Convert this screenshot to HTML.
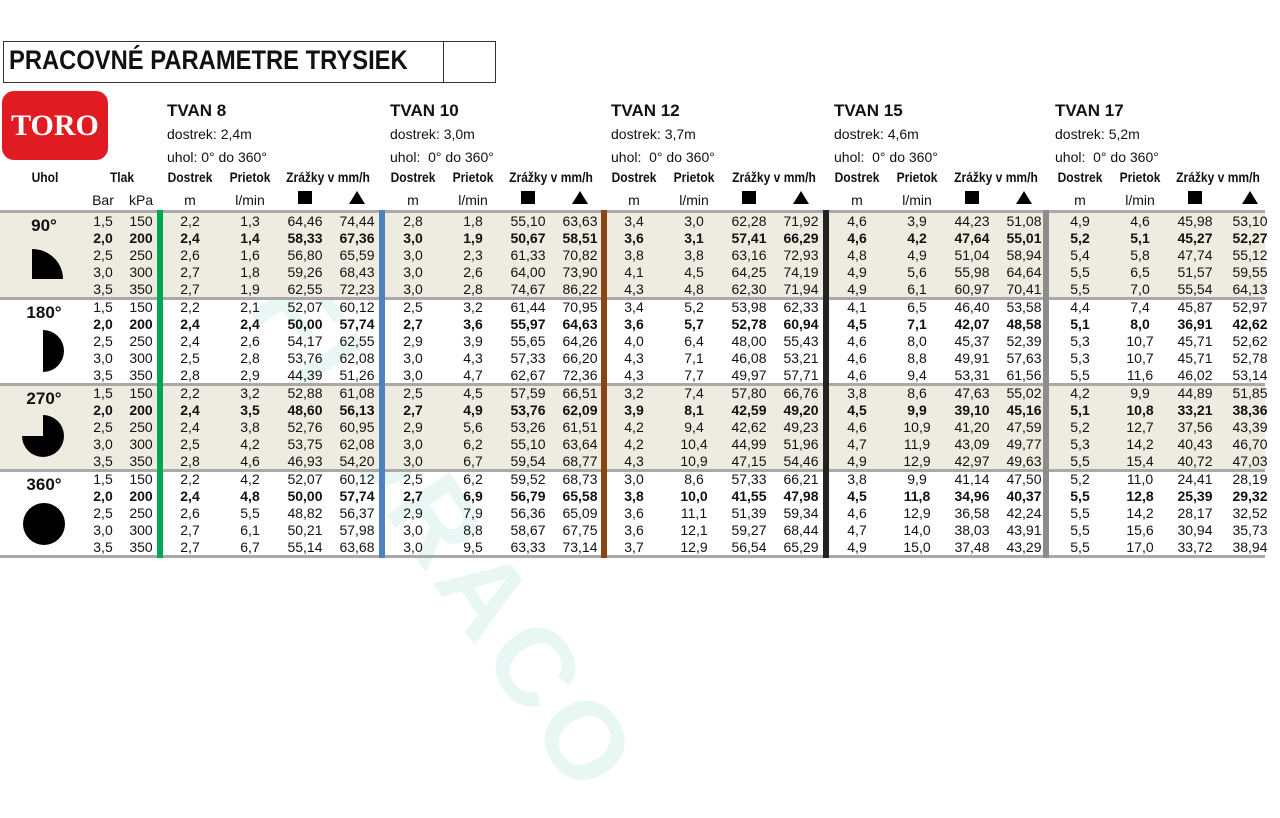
<!DOCTYPE html>
<html><head><meta charset="utf-8"><style>
*{margin:0;padding:0;box-sizing:border-box}
body{width:1280px;height:621px;background:#fff;position:relative;overflow:hidden;font-family:"Liberation Sans",sans-serif;color:#111}
.abs{position:absolute}
.bg{position:absolute;left:0;width:1265px;height:86px;background:#eeece1}
.ln{position:absolute;left:0;width:1265px;height:3px;background:#a9a9a9}
.vb{position:absolute;top:210px;height:348px;width:6px}
.r{position:absolute;left:0;width:1280px;height:17px;font-size:14px;line-height:17px}
.r i{font-style:normal;position:absolute;width:56px;text-align:center}
.b{font-weight:bold}
.p1{left:75px}.p2{left:113px}
.p3{left:162px}.p4{left:222px}.p5{left:277px}.p6{left:329px}
.p7{left:385px}.p8{left:445px}.p9{left:500px}.p10{left:552px}
.p11{left:606px}.p12{left:666px}.p13{left:721px}.p14{left:773px}
.p15{left:829px}.p16{left:889px}.p17{left:944px}.p18{left:996px}
.p19{left:1052px}.p20{left:1112px}.p21{left:1167px}.p22{left:1222px}
.h{position:absolute;font-size:17px;font-weight:bold}
.s{position:absolute;font-size:14px}
.ch{position:absolute;top:169px;font-size:14px;font-weight:bold;width:70px;text-align:center;transform:scaleX(0.86);white-space:nowrap}
.un{position:absolute;top:192px;font-size:14px;width:56px;text-align:center}
.sq{position:absolute;top:191px;width:14px;height:13px;background:#000}
.tr{position:absolute;top:191px;width:0;height:0;border-left:8px solid transparent;border-right:8px solid transparent;border-bottom:13px solid #000}
.ang{position:absolute;left:14px;width:60px;text-align:center;font-size:17px;font-weight:bold}
</style></head><body>
<div class="abs" style="left:330px;top:250px;transform:rotate(56deg);transform-origin:left top;font-size:110px;font-weight:bold;color:rgba(150,215,205,0.22);white-space:nowrap;letter-spacing:8px">FLORACO</div>

<div class="abs" style="left:3px;top:41px;width:493px;height:42px;border:1px solid #333"></div>
<div class="abs" style="left:443px;top:42px;width:1px;height:40px;background:#333"></div>
<div class="abs" style="left:9px;top:45px;font-size:27px;font-weight:bold;transform:scaleX(0.88);transform-origin:left top;white-space:nowrap">PRACOVNÉ PARAMETRE TRYSIEK</div>
<div class="abs" style="left:2px;top:91px;width:106px;height:69px;background:#e11b22;border-radius:12px;color:#fff;font-family:'Liberation Serif',serif;font-weight:bold;font-size:30px;text-align:center;line-height:69px">TORO</div>

<div class="h" style="left:167px;top:101px">TVAN 8</div><div class="s" style="left:167px;top:126px">dostrek: 2,4m</div><div class="s" style="left:167px;top:149px">uhol: 0° do 360°</div>
<div class="h" style="left:390px;top:101px">TVAN 10</div><div class="s" style="left:390px;top:126px">dostrek: 3,0m</div><div class="s" style="left:390px;top:149px">uhol:&nbsp; 0° do 360°</div>
<div class="h" style="left:611px;top:101px">TVAN 12</div><div class="s" style="left:611px;top:126px">dostrek: 3,7m</div><div class="s" style="left:611px;top:149px">uhol:&nbsp; 0° do 360°</div>
<div class="h" style="left:834px;top:101px">TVAN 15</div><div class="s" style="left:834px;top:126px">dostrek: 4,6m</div><div class="s" style="left:834px;top:149px">uhol:&nbsp; 0° do 360°</div>
<div class="h" style="left:1055px;top:101px">TVAN 17</div><div class="s" style="left:1055px;top:126px">dostrek: 5,2m</div><div class="s" style="left:1055px;top:149px">uhol:&nbsp; 0° do 360°</div>

<div class="ch" style="left:10px">Uhol</div><div class="ch" style="left:87px">Tlak</div>
<div class="un" style="left:75px">Bar</div><div class="un" style="left:113px">kPa</div>
<div class="ch" style="left:155px">Dostrek</div><div class="ch" style="left:215px">Prietok</div><div class="ch" style="left:268px;width:120px">Zrážky v mm/h</div>
<div class="un p3">m</div><div class="un p4">l/min</div><div class="sq" style="left:298px"></div><div class="tr" style="left:349px"></div>
<div class="ch" style="left:378px">Dostrek</div><div class="ch" style="left:438px">Prietok</div><div class="ch" style="left:491px;width:120px">Zrážky v mm/h</div>
<div class="un p7">m</div><div class="un p8">l/min</div><div class="sq" style="left:521px"></div><div class="tr" style="left:572px"></div>
<div class="ch" style="left:599px">Dostrek</div><div class="ch" style="left:659px">Prietok</div><div class="ch" style="left:714px;width:120px">Zrážky v mm/h</div>
<div class="un p11">m</div><div class="un p12">l/min</div><div class="sq" style="left:742px"></div><div class="tr" style="left:793px"></div>
<div class="ch" style="left:822px">Dostrek</div><div class="ch" style="left:882px">Prietok</div><div class="ch" style="left:936px;width:120px">Zrážky v mm/h</div>
<div class="un p15">m</div><div class="un p16">l/min</div><div class="sq" style="left:965px"></div><div class="tr" style="left:1016px"></div>
<div class="ch" style="left:1045px">Dostrek</div><div class="ch" style="left:1105px">Prietok</div><div class="ch" style="left:1158px;width:120px">Zrážky v mm/h</div>
<div class="un p19">m</div><div class="un p20">l/min</div><div class="sq" style="left:1188px"></div><div class="tr" style="left:1242px"></div>

<div class="bg" style="top:212px"></div><div class="bg" style="top:384px"></div>
<div class="ln" style="top:210px"></div><div class="ln" style="top:297px"></div><div class="ln" style="top:383px"></div><div class="ln" style="top:469px"></div><div class="ln" style="top:555px"></div>
<div class="vb" style="left:157px;background:#00a651"></div>
<div class="vb" style="left:379px;background:#4f81bd"></div>
<div class="vb" style="left:601px;background:#8b4513"></div>
<div class="vb" style="left:823px;background:#222"></div>
<div class="vb" style="left:1043px;background:#8c8c8c"></div>

<div class="ang" style="top:216px">90°</div>
<div class="abs" style="left:32px;top:249px;width:31px;height:30px;background:#000;border-top-right-radius:31px 30px"></div>
<div class="ang" style="top:303px">180°</div>
<div class="abs" style="left:22px;top:330px;width:42px;height:42px;border-radius:50%;background:conic-gradient(#000 0 180deg,transparent 180deg)"></div>
<div class="ang" style="top:389px">270°</div>
<div class="abs" style="left:22px;top:415px;width:42px;height:42px;border-radius:50%;background:conic-gradient(#000 0 270deg,transparent 270deg)"></div>
<div class="ang" style="top:475px">360°</div>
<div class="abs" style="left:23px;top:503px;width:42px;height:42px;border-radius:50%;background:#000"></div>

<div class="r" style="top:213px"><i class=p1>1,5</i><i class=p2>150</i><i class=p3>2,2</i><i class=p4>1,3</i><i class=p5>64,46</i><i class=p6>74,44</i><i class=p7>2,8</i><i class=p8>1,8</i><i class=p9>55,10</i><i class=p10>63,63</i><i class=p11>3,4</i><i class=p12>3,0</i><i class=p13>62,28</i><i class=p14>71,92</i><i class=p15>4,6</i><i class=p16>3,9</i><i class=p17>44,23</i><i class=p18>51,08</i><i class=p19>4,9</i><i class=p20>4,6</i><i class=p21>45,98</i><i class=p22>53,10</i></div>
<div class="r b" style="top:230px"><i class=p1>2,0</i><i class=p2>200</i><i class=p3>2,4</i><i class=p4>1,4</i><i class=p5>58,33</i><i class=p6>67,36</i><i class=p7>3,0</i><i class=p8>1,9</i><i class=p9>50,67</i><i class=p10>58,51</i><i class=p11>3,6</i><i class=p12>3,1</i><i class=p13>57,41</i><i class=p14>66,29</i><i class=p15>4,6</i><i class=p16>4,2</i><i class=p17>47,64</i><i class=p18>55,01</i><i class=p19>5,2</i><i class=p20>5,1</i><i class=p21>45,27</i><i class=p22>52,27</i></div>
<div class="r" style="top:247px"><i class=p1>2,5</i><i class=p2>250</i><i class=p3>2,6</i><i class=p4>1,6</i><i class=p5>56,80</i><i class=p6>65,59</i><i class=p7>3,0</i><i class=p8>2,3</i><i class=p9>61,33</i><i class=p10>70,82</i><i class=p11>3,8</i><i class=p12>3,8</i><i class=p13>63,16</i><i class=p14>72,93</i><i class=p15>4,8</i><i class=p16>4,9</i><i class=p17>51,04</i><i class=p18>58,94</i><i class=p19>5,4</i><i class=p20>5,8</i><i class=p21>47,74</i><i class=p22>55,12</i></div>
<div class="r" style="top:264px"><i class=p1>3,0</i><i class=p2>300</i><i class=p3>2,7</i><i class=p4>1,8</i><i class=p5>59,26</i><i class=p6>68,43</i><i class=p7>3,0</i><i class=p8>2,6</i><i class=p9>64,00</i><i class=p10>73,90</i><i class=p11>4,1</i><i class=p12>4,5</i><i class=p13>64,25</i><i class=p14>74,19</i><i class=p15>4,9</i><i class=p16>5,6</i><i class=p17>55,98</i><i class=p18>64,64</i><i class=p19>5,5</i><i class=p20>6,5</i><i class=p21>51,57</i><i class=p22>59,55</i></div>
<div class="r" style="top:281px"><i class=p1>3,5</i><i class=p2>350</i><i class=p3>2,7</i><i class=p4>1,9</i><i class=p5>62,55</i><i class=p6>72,23</i><i class=p7>3,0</i><i class=p8>2,8</i><i class=p9>74,67</i><i class=p10>86,22</i><i class=p11>4,3</i><i class=p12>4,8</i><i class=p13>62,30</i><i class=p14>71,94</i><i class=p15>4,9</i><i class=p16>6,1</i><i class=p17>60,97</i><i class=p18>70,41</i><i class=p19>5,5</i><i class=p20>7,0</i><i class=p21>55,54</i><i class=p22>64,13</i></div>

<div class="r" style="top:299px"><i class=p1>1,5</i><i class=p2>150</i><i class=p3>2,2</i><i class=p4>2,1</i><i class=p5>52,07</i><i class=p6>60,12</i><i class=p7>2,5</i><i class=p8>3,2</i><i class=p9>61,44</i><i class=p10>70,95</i><i class=p11>3,4</i><i class=p12>5,2</i><i class=p13>53,98</i><i class=p14>62,33</i><i class=p15>4,1</i><i class=p16>6,5</i><i class=p17>46,40</i><i class=p18>53,58</i><i class=p19>4,4</i><i class=p20>7,4</i><i class=p21>45,87</i><i class=p22>52,97</i></div>
<div class="r b" style="top:316px"><i class=p1>2,0</i><i class=p2>200</i><i class=p3>2,4</i><i class=p4>2,4</i><i class=p5>50,00</i><i class=p6>57,74</i><i class=p7>2,7</i><i class=p8>3,6</i><i class=p9>55,97</i><i class=p10>64,63</i><i class=p11>3,6</i><i class=p12>5,7</i><i class=p13>52,78</i><i class=p14>60,94</i><i class=p15>4,5</i><i class=p16>7,1</i><i class=p17>42,07</i><i class=p18>48,58</i><i class=p19>5,1</i><i class=p20>8,0</i><i class=p21>36,91</i><i class=p22>42,62</i></div>
<div class="r" style="top:333px"><i class=p1>2,5</i><i class=p2>250</i><i class=p3>2,4</i><i class=p4>2,6</i><i class=p5>54,17</i><i class=p6>62,55</i><i class=p7>2,9</i><i class=p8>3,9</i><i class=p9>55,65</i><i class=p10>64,26</i><i class=p11>4,0</i><i class=p12>6,4</i><i class=p13>48,00</i><i class=p14>55,43</i><i class=p15>4,6</i><i class=p16>8,0</i><i class=p17>45,37</i><i class=p18>52,39</i><i class=p19>5,3</i><i class=p20>10,7</i><i class=p21>45,71</i><i class=p22>52,62</i></div>
<div class="r" style="top:350px"><i class=p1>3,0</i><i class=p2>300</i><i class=p3>2,5</i><i class=p4>2,8</i><i class=p5>53,76</i><i class=p6>62,08</i><i class=p7>3,0</i><i class=p8>4,3</i><i class=p9>57,33</i><i class=p10>66,20</i><i class=p11>4,3</i><i class=p12>7,1</i><i class=p13>46,08</i><i class=p14>53,21</i><i class=p15>4,6</i><i class=p16>8,8</i><i class=p17>49,91</i><i class=p18>57,63</i><i class=p19>5,3</i><i class=p20>10,7</i><i class=p21>45,71</i><i class=p22>52,78</i></div>
<div class="r" style="top:367px"><i class=p1>3,5</i><i class=p2>350</i><i class=p3>2,8</i><i class=p4>2,9</i><i class=p5>44,39</i><i class=p6>51,26</i><i class=p7>3,0</i><i class=p8>4,7</i><i class=p9>62,67</i><i class=p10>72,36</i><i class=p11>4,3</i><i class=p12>7,7</i><i class=p13>49,97</i><i class=p14>57,71</i><i class=p15>4,6</i><i class=p16>9,4</i><i class=p17>53,31</i><i class=p18>61,56</i><i class=p19>5,5</i><i class=p20>11,6</i><i class=p21>46,02</i><i class=p22>53,14</i></div>

<div class="r" style="top:385px"><i class=p1>1,5</i><i class=p2>150</i><i class=p3>2,2</i><i class=p4>3,2</i><i class=p5>52,88</i><i class=p6>61,08</i><i class=p7>2,5</i><i class=p8>4,5</i><i class=p9>57,59</i><i class=p10>66,51</i><i class=p11>3,2</i><i class=p12>7,4</i><i class=p13>57,80</i><i class=p14>66,76</i><i class=p15>3,8</i><i class=p16>8,6</i><i class=p17>47,63</i><i class=p18>55,02</i><i class=p19>4,2</i><i class=p20>9,9</i><i class=p21>44,89</i><i class=p22>51,85</i></div>
<div class="r b" style="top:402px"><i class=p1>2,0</i><i class=p2>200</i><i class=p3>2,4</i><i class=p4>3,5</i><i class=p5>48,60</i><i class=p6>56,13</i><i class=p7>2,7</i><i class=p8>4,9</i><i class=p9>53,76</i><i class=p10>62,09</i><i class=p11>3,9</i><i class=p12>8,1</i><i class=p13>42,59</i><i class=p14>49,20</i><i class=p15>4,5</i><i class=p16>9,9</i><i class=p17>39,10</i><i class=p18>45,16</i><i class=p19>5,1</i><i class=p20>10,8</i><i class=p21>33,21</i><i class=p22>38,36</i></div>
<div class="r" style="top:419px"><i class=p1>2,5</i><i class=p2>250</i><i class=p3>2,4</i><i class=p4>3,8</i><i class=p5>52,76</i><i class=p6>60,95</i><i class=p7>2,9</i><i class=p8>5,6</i><i class=p9>53,26</i><i class=p10>61,51</i><i class=p11>4,2</i><i class=p12>9,4</i><i class=p13>42,62</i><i class=p14>49,23</i><i class=p15>4,6</i><i class=p16>10,9</i><i class=p17>41,20</i><i class=p18>47,59</i><i class=p19>5,2</i><i class=p20>12,7</i><i class=p21>37,56</i><i class=p22>43,39</i></div>
<div class="r" style="top:436px"><i class=p1>3,0</i><i class=p2>300</i><i class=p3>2,5</i><i class=p4>4,2</i><i class=p5>53,75</i><i class=p6>62,08</i><i class=p7>3,0</i><i class=p8>6,2</i><i class=p9>55,10</i><i class=p10>63,64</i><i class=p11>4,2</i><i class=p12>10,4</i><i class=p13>44,99</i><i class=p14>51,96</i><i class=p15>4,7</i><i class=p16>11,9</i><i class=p17>43,09</i><i class=p18>49,77</i><i class=p19>5,3</i><i class=p20>14,2</i><i class=p21>40,43</i><i class=p22>46,70</i></div>
<div class="r" style="top:453px"><i class=p1>3,5</i><i class=p2>350</i><i class=p3>2,8</i><i class=p4>4,6</i><i class=p5>46,93</i><i class=p6>54,20</i><i class=p7>3,0</i><i class=p8>6,7</i><i class=p9>59,54</i><i class=p10>68,77</i><i class=p11>4,3</i><i class=p12>10,9</i><i class=p13>47,15</i><i class=p14>54,46</i><i class=p15>4,9</i><i class=p16>12,9</i><i class=p17>42,97</i><i class=p18>49,63</i><i class=p19>5,5</i><i class=p20>15,4</i><i class=p21>40,72</i><i class=p22>47,03</i></div>

<div class="r" style="top:471px"><i class=p1>1,5</i><i class=p2>150</i><i class=p3>2,2</i><i class=p4>4,2</i><i class=p5>52,07</i><i class=p6>60,12</i><i class=p7>2,5</i><i class=p8>6,2</i><i class=p9>59,52</i><i class=p10>68,73</i><i class=p11>3,0</i><i class=p12>8,6</i><i class=p13>57,33</i><i class=p14>66,21</i><i class=p15>3,8</i><i class=p16>9,9</i><i class=p17>41,14</i><i class=p18>47,50</i><i class=p19>5,2</i><i class=p20>11,0</i><i class=p21>24,41</i><i class=p22>28,19</i></div>
<div class="r b" style="top:488px"><i class=p1>2,0</i><i class=p2>200</i><i class=p3>2,4</i><i class=p4>4,8</i><i class=p5>50,00</i><i class=p6>57,74</i><i class=p7>2,7</i><i class=p8>6,9</i><i class=p9>56,79</i><i class=p10>65,58</i><i class=p11>3,8</i><i class=p12>10,0</i><i class=p13>41,55</i><i class=p14>47,98</i><i class=p15>4,5</i><i class=p16>11,8</i><i class=p17>34,96</i><i class=p18>40,37</i><i class=p19>5,5</i><i class=p20>12,8</i><i class=p21>25,39</i><i class=p22>29,32</i></div>
<div class="r" style="top:505px"><i class=p1>2,5</i><i class=p2>250</i><i class=p3>2,6</i><i class=p4>5,5</i><i class=p5>48,82</i><i class=p6>56,37</i><i class=p7>2,9</i><i class=p8>7,9</i><i class=p9>56,36</i><i class=p10>65,09</i><i class=p11>3,6</i><i class=p12>11,1</i><i class=p13>51,39</i><i class=p14>59,34</i><i class=p15>4,6</i><i class=p16>12,9</i><i class=p17>36,58</i><i class=p18>42,24</i><i class=p19>5,5</i><i class=p20>14,2</i><i class=p21>28,17</i><i class=p22>32,52</i></div>
<div class="r" style="top:522px"><i class=p1>3,0</i><i class=p2>300</i><i class=p3>2,7</i><i class=p4>6,1</i><i class=p5>50,21</i><i class=p6>57,98</i><i class=p7>3,0</i><i class=p8>8,8</i><i class=p9>58,67</i><i class=p10>67,75</i><i class=p11>3,6</i><i class=p12>12,1</i><i class=p13>59,27</i><i class=p14>68,44</i><i class=p15>4,7</i><i class=p16>14,0</i><i class=p17>38,03</i><i class=p18>43,91</i><i class=p19>5,5</i><i class=p20>15,6</i><i class=p21>30,94</i><i class=p22>35,73</i></div>
<div class="r" style="top:539px"><i class=p1>3,5</i><i class=p2>350</i><i class=p3>2,7</i><i class=p4>6,7</i><i class=p5>55,14</i><i class=p6>63,68</i><i class=p7>3,0</i><i class=p8>9,5</i><i class=p9>63,33</i><i class=p10>73,14</i><i class=p11>3,7</i><i class=p12>12,9</i><i class=p13>56,54</i><i class=p14>65,29</i><i class=p15>4,9</i><i class=p16>15,0</i><i class=p17>37,48</i><i class=p18>43,29</i><i class=p19>5,5</i><i class=p20>17,0</i><i class=p21>33,72</i><i class=p22>38,94</i></div>
</body></html>
